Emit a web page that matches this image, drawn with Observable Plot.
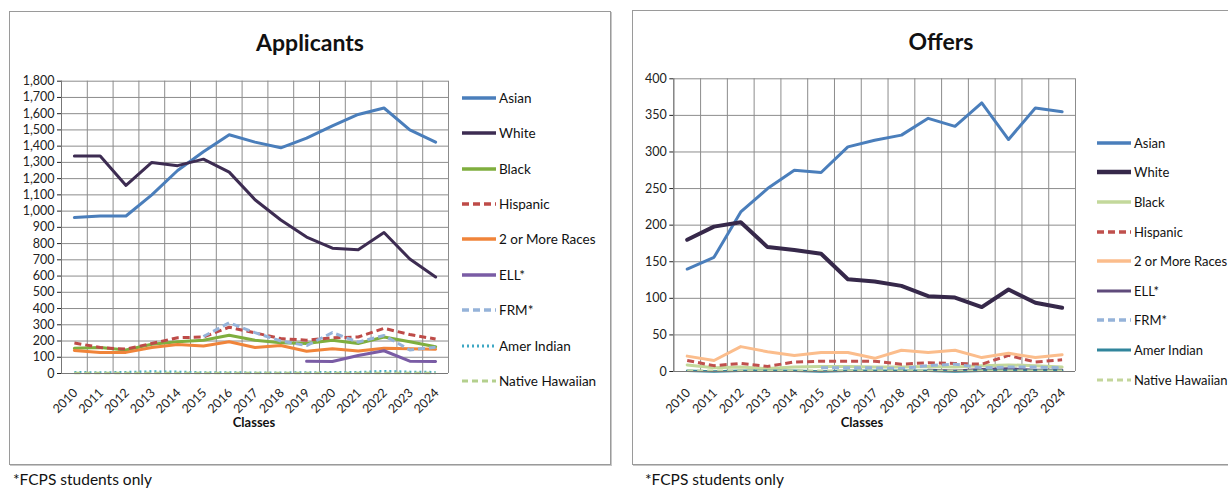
<!DOCTYPE html>
<html><head><meta charset="utf-8">
<script src="https://cdn.jsdelivr.net/npm/d3@7"></script>
<script src="https://cdn.jsdelivr.net/npm/@observablehq/plot@0.6"></script>
<style>
body{margin:0;background:#fff;font-family:Lato,"Open Sans",sans-serif;}
#root{position:relative;width:1228px;height:488px;overflow:hidden;background:#fff;}
.box{position:absolute;border:1.5px solid #9a9a9a;box-shadow:1px 1px 0 #c8c8c8;}
.abs{position:absolute;white-space:nowrap;color:#111;}
.chart{position:absolute;}
.leg{position:absolute;display:flex;align-items:center;white-space:nowrap;color:#111;}
</style></head>
<body><div id="root"></div>
<script>
// ---- data ----
const years = [2010,2011,2012,2013,2014,2015,2016,2017,2018,2019,2020,2021,2022,2023,2024];
const seriesNames = ["Asian","White","Black","Hispanic","2 or More Races","ELL*","FRM*","Amer Indian","Native Hawaiian"];

// Applicants
const appAsian    = [960,970,970,1100,1250,1365,1470,1425,1390,1450,1525,1595,1635,1500,1425];
const appWhite    = [1340,1340,1158,1300,1280,1320,1240,1070,945,840,772,762,868,705,594];
const appBlack    = [155,160,145,180,195,205,235,205,190,185,205,185,225,195,165];
const appHispanic = [188,160,150,185,220,225,285,250,215,205,220,225,278,240,212];
const appMulti    = [142,130,130,160,178,170,195,160,172,137,152,138,155,152,150];
const appELL      = [null,null,null,null,null,null,null,null,null,76,74,111,140,76,74];
const appFRM      = [null,null,null,null,null,228,312,252,200,172,252,193,234,145,162];
const appAmInd    = [8,6,8,12,10,6,6,5,5,6,8,8,14,10,8];
const appHawaii   = [3,3,3,3,3,3,3,3,3,3,3,3,3,3,3];

// Offers
const offAsian    = [140,156,218,250,275,272,307,316,323,346,335,367,317,360,355];
const offWhite    = [180,198,204,170,166,161,126,123,117,103,101,88,112,94,87];
const offBlack    = [9,5,6,4,6,7,7,6,6,7,6,8,9,8,6];
const offHispanic = [15,8,11,7,13,14,14,14,10,12,11,10,22,13,16];
const offMulti    = [21,15,34,27,22,26,26,18,29,26,29,19,25,19,23];
const offELL      = [null,null,null,null,null,null,null,null,null,2,1,3,4,2,2];
const offFRM      = [null,null,null,null,null,5,5,5,4,8,10,5,6,6,5];
const offAmInd    = [1,0,1,1,1,0,1,1,1,1,0,1,1,1,1];
const offHawaii   = [1,1,1,1,1,1,1,1,1,1,1,1,1,1,1];

const appTicks = [0,100,200,300,400,500,600,700,800,900,1000,1100,1200,1300,1400,1500,1600,1700,1800];
const offTicks = [0,50,100,150,200,250,300,350,400];

// ---- styles ----
const appStyle = [
  {c:"#4a7ebb",w:3},{c:"#3d2c52",w:3},{c:"#7fae3e",w:3},{c:"#be4b48",w:3,d:"7,4"},
  {c:"#f0843a",w:3},{c:"#7a5ca5",w:3},{c:"#95b3d9",w:3,d:"7,4"},{c:"#3ea8c4",w:2.5,d:"2,3"},{c:"#b4d08d",w:2.5,d:"6,4"}
];
const offStyle = [
  {c:"#4a7ebb",w:3},{c:"#36284a",w:4},{c:"#c3d89b",w:3},{c:"#c0504d",w:3,d:"7,4"},
  {c:"#fbbd8c",w:3},{c:"#5f4a7b",w:2.5},{c:"#95b3d9",w:3,d:"7,4"},{c:"#31859c",w:2.5},{c:"#c3d69b",w:2.5,d:"6,4"}
];

const appData = [appAsian,appWhite,appBlack,appHispanic,appMulti,appELL,appFRM,appAmInd,appHawaii];
const offData = [offAsian,offWhite,offBlack,offHispanic,offMulti,offELL,offFRM,offAmInd,offHawaii];

const root = document.getElementById("root");
const FONT = 'Lato,"Open Sans",sans-serif';

function el(cls, css, html){const e=document.createElement("div");e.className=cls;Object.assign(e.style,css);if(html!=null)e.innerHTML=html;root.appendChild(e);return e;}

function makeChart(data, styles, yTicks, opt){
  const bounds = years.map(y=>y-0.5).concat([years[years.length-1]+0.5]);
  const marks = [
    Plot.ruleY(yTicks,{stroke:"#8c8c8c",strokeWidth:1}),
    Plot.ruleX(bounds,{stroke:"#8c8c8c",strokeWidth:1})
  ];
  data.forEach((vals,i)=>{
    const rows = years.map((y,j)=>({year:y,value:vals[j]}));
    const s = styles[i];
    marks.push(Plot.line(rows,{x:"year",y:"value",stroke:s.c,strokeWidth:s.w,strokeDasharray:s.d||null,strokeLinejoin:"round",strokeLinecap:s.d?"butt":"round"}));
  });
  marks.push(Plot.ruleX([years[0]-0.5],{stroke:"#777"}));
  marks.push(Plot.ruleY([0],{stroke:"#777"}));
  // rotated category labels under the axis
  marks.push(Plot.text(years,{x:d=>d,text:d=>String(d),frameAnchor:"bottom",rotate:-45,textAnchor:"end",dx:4,dy:opt.xdy,fontSize:12.5,fill:"#222"}));
  const svg = Plot.plot({
    width:opt.width,height:opt.height,
    marginLeft:opt.ml,marginRight:opt.mr,marginTop:opt.mt,marginBottom:opt.mb,
    x:{type:"linear",domain:[years[0]-0.5,years[years.length-1]+0.5],axis:null},
    y:{domain:[yTicks[0],yTicks[yTicks.length-1]],ticks:yTicks,tickSize:4,tickPadding:3,label:null,tickFormat:opt.fmt},
    style:{fontFamily:FONT,fontSize:"12.5px",color:"#222",background:"transparent",overflow:"visible"},
    marks
  });
  const wrap = el("chart",{left:opt.left+"px",top:opt.top+"px"});
  wrap.appendChild(svg);
}

function legend(styles, x, y0, dy, fs){
  seriesNames.forEach((n,i)=>{
    const s=styles[i];
    const e = el("leg",{left:x+"px",top:(y0+dy*i-10)+"px",height:"20px",fontSize:fs+"px",fontFamily:FONT});
    e.innerHTML = `<svg width="36" height="20"><line x1="1" y1="10" x2="35" y2="10" stroke="${s.c}" stroke-width="${s.w+0.5}" ${s.d?`stroke-dasharray="${s.d}"`:""}/></svg><span style="margin-left:2px">${n}</span>`;
  });
}

// panels
el("box",{left:"9px",top:"11px",width:"600px",height:"452px"});
el("box",{left:"632px",top:"10px",width:"610px",height:"453px"});

el("abs",{left:"210px",width:"200px",textAlign:"center",top:"28px",fontSize:"23px",fontWeight:"bold",fontFamily:FONT},"Applicants");
el("abs",{left:"841px",width:"200px",textAlign:"center",top:"27px",fontSize:"23px",fontWeight:"bold",fontFamily:FONT},"Offers");

makeChart(appData, appStyle, appTicks, {left:10,top:60,width:445,height:358,ml:51,mr:7,mt:20.7,mb:45,xdy:20,fmt:d=>d3.format(",")(d)});
makeChart(offData, offStyle, offTicks, {left:630,top:60,width:450,height:356,ml:43.3,mr:5,mt:18.3,mb:45,xdy:22,fmt:d=>String(d)});

legend(appStyle, 461, 97.7, 35.4, 13.5);
legend(offStyle, 1096, 142.7, 29.6, 13);

el("abs",{left:"204px",width:"100px",textAlign:"center",top:"414px",fontSize:"13px",fontWeight:"bold",fontFamily:FONT},"Classes");
el("abs",{left:"812px",width:"100px",textAlign:"center",top:"414px",fontSize:"13px",fontWeight:"bold",fontFamily:FONT},"Classes");

el("abs",{left:"13px",top:"470px",fontSize:"15.5px",fontFamily:FONT},"*FCPS students only");
el("abs",{left:"645px",top:"470px",fontSize:"15.5px",fontFamily:FONT},"*FCPS students only");
</script></body></html>
